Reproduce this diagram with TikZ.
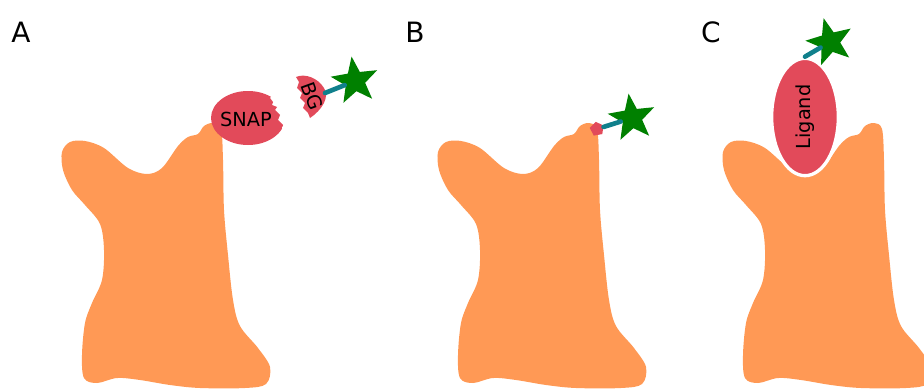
\documentclass[tikz,border=0pt]{standalone}
\usepackage{fontspec}
\setmainfont{DejaVu Sans}
\usepackage{tikz}
\usetikzlibrary{shapes.geometric}
\definecolor{receptororange}{RGB}{255,153,85}
\definecolor{tagred}{RGB}{226,74,90}
\definecolor{dyegreen}{RGB}{0,128,0}
\definecolor{linkerteal}{RGB}{16,128,140}

\tikzset{
  dye/.style={star, star points=5, star point ratio=2.4, fill=dyegreen,
    minimum size=37pt, inner sep=0pt},
  linker/.style={draw=linkerteal, line width=3.5pt, line cap=round},
  tagtext/.style={font=\fontsize{14.5}{17}\selectfont, text=black, inner sep=0pt},
  panellabel/.style={font=\fontsize{21}{25}\selectfont, inner sep=0pt},
}

\begin{document}
\begin{tikzpicture}[x=0.75pt,y=0.75pt,yscale=-1,xscale=1]
  \useasboundingbox (0,0) rectangle (924,389);
  \clip (0,0) rectangle (924,389);

  % Panel labels
  \node[panellabel] (labelA) at (21,32) {A};
  \node[panellabel] (labelB) at (415,32) {B};
  \node[panellabel] (labelC) at (711,32) {C};

  % Receptors, one per panel
  \foreach \dx in {0,376,661} {
    \begin{scope}[shift={(\dx,0)}]
      \fill[receptororange] plot[smooth cycle, tension=0.55] coordinates {
        (62,152) (70,142) (85,141) (104,148) (128,168) (147,174) (162,168)
        (178,146) (188,137) (198,134) (204,126) (213,123) (221,129)
        (223,160) (224,210) (228,255) (233,300) (240,326) (258,348)
        (270,367) (266,384) (245,388) (200,388) (170,385) (140,380)
        (117,378) (97,383) (84,378) (82,355) (85,323) (92,303)
        (102,280) (104,250) (100,224) (85,205) (72,190) (63,170)};
    \end{scope}
  }

  %% A: SNAP tag cut off from the BG substrate
  \begin{scope}
    \clip (200,80) -- (268,88) -- (268,92) -- (272,95) -- (270,98) -- (273,102) -- (272,105)
      -- (277,107) -- (275,110) -- (280,115) -- (278,120) -- (283,125) -- (282,128)
      -- (286,132) -- (300,160) -- (200,160) -- cycle;
    \fill[tagred] (248,118) ellipse [x radius=37, y radius=27];
  \end{scope}
  \node[tagtext] (snap) at (246,119) {SNAP};

  % BG piece
  \fill[tagred] (296,77) -- (299,82) -- (297,88) -- (302,93) -- (300,98) -- (305,103)
    -- (303,108) -- (308,113) -- (310,118) .. controls (322,110) and (330,97) .. (324,88)
    .. controls (318,78) and (305,73) .. cycle;
  \node[tagtext, rotate=-70] (bg) at (312,96) {BG};

  \node[dye, rotate=8] (starA) at (355,81) {};
  \coordinate (bgend) at (325,93);
  \draw[linker] (bgend) -- (starA);

  %% B: bound tag
  \node[regular polygon, regular polygon sides=5, fill=tagred, minimum size=11pt,
    inner sep=0pt, rotate=10] (tagB) at (597,129) {};
  \node[dye, rotate=8] (starB) at (632,118) {};
  \draw[linker] (tagB) -- (starB);

  %% C: labelled ligand
  \node[ellipse, fill=tagred, draw=white, line width=2.5pt, minimum width=88pt,
    minimum height=50pt, inner sep=0pt, rotate=90, tagtext] (ligand) at (805,117) {Ligand};
  \node[dye, rotate=15] (starC) at (830,42) {};
  \draw[linker] (ligand.east) -- (starC);
\end{tikzpicture}
\end{document}
